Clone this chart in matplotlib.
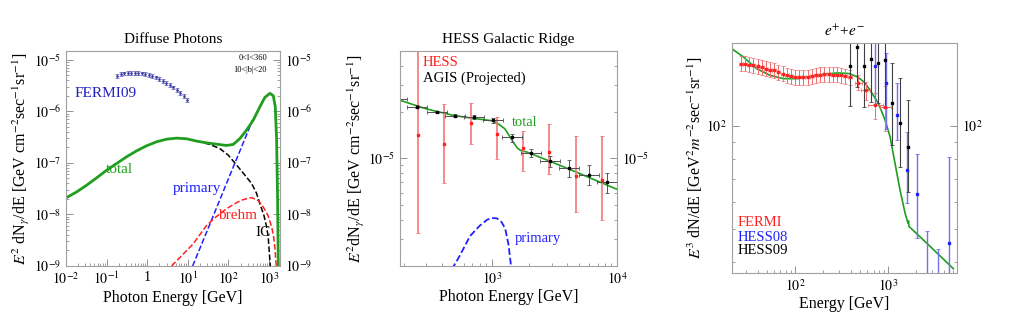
import numpy as np
import matplotlib
matplotlib.use('Agg')
import matplotlib.pyplot as plt
from matplotlib.ticker import NullFormatter, LogLocator

plt.rcParams['font.family'] = ['Liberation Serif', 'DejaVu Serif']
plt.rcParams['mathtext.fontset'] = 'stix'

# ---------------- panel 1: diffuse photons ----------------
diff_E = [0.01, 0.0183, 0.0323, 0.0569, 0.1005, 0.177, 0.312, 0.55, 0.97, 1.71, 3.02,
          5.32, 9.38, 16.5, 29.2, 51.4, 90.6, 132, 193, 282, 411, 600, 796, 1059,
          1279, 1433, 1545, 1635, 1700, 1720]
diff_total = [2.1e-8, 2.74e-8, 3.7e-8, 5.14e-8, 7.24e-8, 9.77e-8, 1.32e-7, 1.72e-7, 2.16e-7,
              2.58e-7, 2.9e-7, 3.04e-7, 2.95e-7, 2.66e-7, 2.46e-7, 2.32e-7, 2.19e-7, 2.29e-7,
              2.99e-7, 4.35e-7, 6.8e-7, 1.24e-6, 1.88e-6, 2.25e-6, 2.02e-6, 1.24e-6, 2.78e-7,
              1.89e-8, 1e-9, 1e-10]

ic_E = [16.5, 20, 35.2, 62, 99.6, 160, 256, 375, 498, 600, 753, 875, 961, 1000, 1080, 1120]
ic_v = [2.66e-7, 2.57e-7, 2.29e-7, 1.9e-7, 1.42e-7, 9.1e-8, 5.8e-8, 4.0e-8, 2.55e-8, 1.6e-8,
        9.6e-9, 5.8e-9, 3.6e-9, 2.33e-9, 1e-9, 5e-10]

prim_E = [13.2, 30, 100, 200, 300, 400]
prim_v = [1e-9, 4.8e-9, 4.9e-8, 1.84e-7, 4.0e-7, 7.0e-7]

brehm_E = [4.0, 13.7, 29, 50, 91, 150, 212, 300, 375, 550, 724, 950, 1164, 1300, 1400, 1510, 1560]
brehm_v = [1e-9, 2.7e-9, 6.1e-9, 9e-9, 1.3e-8, 1.65e-8, 1.9e-8, 2.05e-8, 2.13e-8, 1.85e-8,
           1.4e-8, 9.5e-9, 5.8e-9, 3.8e-9, 2.3e-9, 1e-9, 5e-10]

fermi09_E = [0.184, 0.224, 0.273, 0.333, 0.406, 0.494, 0.602, 0.734, 0.894, 1.09, 1.33,
             1.62, 1.97, 2.40, 2.93, 3.57, 4.35, 5.30, 6.45, 7.87, 9.4]
fermi09_v = [4.96e-6, 5.34e-6, 5.5e-6, 5.66e-6, 5.66e-6, 5.66e-6, 5.58e-6, 5.5e-6, 5.34e-6,
             5.1e-6, 4.89e-6, 4.6e-6, 4.33e-6, 3.96e-6, 3.62e-6, 3.27e-6, 2.94e-6, 2.61e-6,
             2.31e-6, 2.0e-6, 1.67e-6]
fermi09_rel = 0.08

# ---------------- panel 2: HESS galactic ridge ----------------
ridge_E = [185, 300, 500, 800, 1000, 1080, 1150, 1270, 1400, 1490, 1600, 1690, 1910,
           3000, 5000, 10000]
ridge_total = [2.39e-5, 2.1e-5, 1.9e-5, 1.8e-5, 1.76e-5, 1.71e-5, 1.66e-5, 1.56e-5, 1.38e-5,
               1.27e-5, 1.17e-5, 1.13e-5, 1.1e-5, 9.5e-6, 8.0e-6, 6.3e-6]

ridge_prim_E = [480, 550, 671, 800, 920, 1000, 1100, 1200, 1280, 1360, 1420, 1450]
ridge_prim_v = [1.9e-6, 2.3e-6, 3.13e-6, 3.65e-6, 4.0e-6, 4.1e-6, 4.08e-6, 3.85e-6, 3.5e-6,
                2.76e-6, 2.05e-6, 1.6e-6]

agis_E = [175, 255, 364, 510, 722, 1030, 1460, 2060, 2920, 4160, 5950, 8370]
agis_v = [2.42e-5, 2.17e-5, 2.0e-5, 1.9e-5, 1.85e-5, 1.77e-5, 1.37e-5, 1.09e-5, 9.6e-6,
          8.7e-6, 7.85e-6, 6.98e-6]
agis_rel = [0.02, 0.02, 0.02, 0.02, 0.03, 0.04, 0.06, 0.06, 0.08, 0.13, 0.15, 0.15]
agis_dlogE = 0.08

hess_E = [260, 419, 680, 1110, 1790, 2880, 4680, 7600]
hess_v = [1.41e-5, 1.25e-5, 1.71e-5, 1.44e-5, 1.17e-5, 1.1e-5, 7.65e-6, 7.2e-6]
hess_hi = [6e-5, 2.27e-5, 2.3e-5, 1.86e-5, 1.5e-5, 1.68e-5, 1.39e-5, 1.4e-5]
hess_lo = [3.26e-6, 6.9e-6, 1.25e-5, 9.85e-6, 8.25e-6, 7.9e-6, 4.5e-6, 3.97e-6]

# ---------------- panel 3: e+ + e- ----------------
ee_E = [21.4, 27.9, 38.8, 54.2, 75.5, 105, 147, 205, 286, 382, 470, 555, 640, 787, 929, 1052,
        1189, 1345, 1524, 1640, 1660, 1680, 2831, 5037]
ee_v = [167.5, 159.1, 147, 140.5, 137.4, 137.4, 139.6, 141.5, 142.8, 142.2, 139, 134.3, 127.3,
        116.5, 104.1, 93.1, 77.8, 65.1, 55.7, 52.0, 52.8, 50.9, 44.5, 38.3]

fermi_E = [26.3, 29.2, 32.3, 35.9, 39.8, 44.1, 48.9, 54.3, 60.0, 66.7, 73.9, 82.0, 90.8,
           100.7, 111.8, 123.7, 137.2, 152.3, 168.6, 187.1, 207.6, 229.8, 255.0, 282.9,
           313.2, 347.5, 390, 482, 578, 729, 938]
fermi_v = [152.1, 152.1, 151.1, 150.4, 149.4, 148.7, 147.1, 146.0, 145.4, 143.8, 142.1, 140.5,
           139.6, 139.0, 138.7, 139.0, 139.0, 139.6, 140.5, 141.2, 141.5, 141.5, 141.2, 141.2,
           140.5, 139.6, 139.0, 133.7, 127.0, 114.8, 113.4]
fermi_rel = [0.05] * 27 + [0.05, 0.06, 0.085, 0.15]
fermi_dlogE = [0.02] * 27 + [0.04, 0.05, 0.08, 0.06]

hess08_E = [725, 944, 1253, 1588, 2036, 2646, 3475, 4495]
hess08_v = [149.6, 133.2, 107.7, 74.4, 63.4, 34, 35, 45.5]
hess08_hi = [180, 163, 133, 96.3, 82.9, 49.2, 43.7, 80.9]
hess08_lo = [116, 98, 91, 59.6, 47.1, 25, 25, 30]

hess09_E = [388, 470, 552, 651, 787, 929, 1112, 1345, 1620]
hess09_v = [149.7, 170.1, 150, 156.4, 152.2, 155.7, 116.4, 101.8, 87.0]
hess09_hi = [180, 200, 190, 190, 190, 190, 152.9, 137.8, 119.1]
hess09_lo = [114, 129.6, 113.4, 117.7, 116.4, 113, 88.1, 76.1, 64.1]

GREEN = '#1f9e1f'


def frame(ax):
    for s in ax.spines.values():
        s.set_color('#a0a0a0')
        s.set_linewidth(0.8)
    ax.set_xscale('log')
    ax.set_yscale('log')
    ax.tick_params(which='both', direction='in', colors='#909090', labelcolor='black',
                   top=False, right=True, labelright=True, labelsize=10)
    ax.tick_params(which='major', length=5, width=0.7)
    ax.tick_params(which='minor', length=2.5, width=0.6)
    ax.xaxis.set_minor_locator(LogLocator(subs=np.arange(2, 10)))
    ax.yaxis.set_minor_locator(LogLocator(subs=np.arange(2, 10)))
    ax.yaxis.set_minor_formatter(NullFormatter())
    ax.xaxis.set_minor_formatter(NullFormatter())


def xerr_log(E, d):
    E = np.array(E)
    d = np.array(d)
    return [E - E / 10 ** d, E * 10 ** d - E]


def yerr_asym(v, lo, hi):
    v = np.array(v)
    return [v - np.array(lo), np.array(hi) - v]


fig = plt.figure(figsize=(10.1, 3.35), dpi=100)

# ---- panel 1 ----
ax1 = fig.add_axes([0.0653, 0.206, 0.2119, 0.642])
frame(ax1)
ax1.plot(ic_E, ic_v, '--', color='black', lw=1.1)
ax1.plot(prim_E, prim_v, '--', color='#2020ff', lw=1.1)
ax1.plot(brehm_E, brehm_v, '--', color='#ff2020', lw=1.1)
ax1.plot(diff_E, diff_total, color=GREEN, lw=2)
f09 = np.array(fermi09_v)
ax1.errorbar(fermi09_E, fermi09_v, yerr=fermi09_rel * f09, fmt='s', ms=0.8, color='#3a3aa0',
             ecolor='#5555b5', elinewidth=0.6, capsize=1.2, capthick=0.5)
ax1.set_xlim(0.01, 1870)
ax1.set_ylim(1e-9, 1.5e-5)
ax1.set_xticks([1e-2, 1e-1, 1, 10, 100, 1000],
               ['$10^{-2}$', '$10^{-1}$', '1', '$10^{1}$', '$10^{2}$', '$10^{3}$'])
ax1.set_yticks([1e-9, 1e-8, 1e-7, 1e-6, 1e-5],
               ['$10^{-9}$', '$10^{-8}$', '$10^{-7}$', '$10^{-6}$', '$10^{-5}$'])
ax1.set_title('Diffuse Photons', fontsize=11, pad=6)
ax1.set_xlabel('Photon Energy [GeV]', fontsize=11.5, labelpad=2)
ax1.set_ylabel(r'$E^2$ dN$_\gamma$/dE [GeV cm$^{-2}$sec$^{-1}$sr$^{-1}$]', fontsize=11.5, labelpad=1)
ax1.text(0.042, 0.80, 'FERMI09', color='#2020c0', fontsize=11, transform=ax1.transAxes, va='center')
ax1.text(0.94, 0.967, '0<l<360', fontsize=6, ha='right', va='center', transform=ax1.transAxes)
ax1.text(0.94, 0.91, '10<|b|<20', fontsize=6, ha='right', va='center', transform=ax1.transAxes)
ax1.text(0.25, 0.45, 'total', color=GREEN, fontsize=11, ha='center', va='center', transform=ax1.transAxes)
ax1.text(0.61, 0.36, 'primary', color='#2020ff', fontsize=11, ha='center', va='center', transform=ax1.transAxes)
ax1.text(0.80, 0.237, 'brehm', color='#ff2020', fontsize=11, ha='center', va='center', transform=ax1.transAxes)
ax1.text(0.92, 0.157, 'IC', color='black', fontsize=11, ha='center', va='center', transform=ax1.transAxes)

# ---- panel 2 ----
ax2 = fig.add_axes([0.396, 0.206, 0.2149, 0.642])
frame(ax2)
ax2.plot(ridge_prim_E, ridge_prim_v, '--', color='#2020ff', lw=1.3)
ax2.plot(ridge_E, ridge_total, color=GREEN, lw=1.2)
ax2.errorbar(hess_E, hess_v, yerr=yerr_asym(hess_v, hess_lo, hess_hi), fmt='s', ms=1.8,
             color='#ff2020', ecolor='#f07878', elinewidth=1.2, capsize=1.5, capthick=0.6)
av = np.array(agis_v)
ax2.errorbar(agis_E, agis_v, yerr=np.array(agis_rel) * av, xerr=xerr_log(agis_E, agis_dlogE),
             fmt='s', ms=1.8, color='black', ecolor='#505050', elinewidth=0.7, capsize=1.5,
             capthick=0.6)
ax2.set_xlim(185, 10000)
ax2.set_ylim(2e-6, 5e-5)
ax2.set_xticks([1e3, 1e4], ['$10^{3}$', '$10^{4}$'])
ax2.set_yticks([1e-5], ['$10^{-5}$'])
ax2.set_title('HESS Galactic Ridge', fontsize=11, pad=6)
ax2.set_xlabel('Photon Energy [GeV]', fontsize=11.5, labelpad=2)
ax2.set_ylabel(r'$E^2$dN$_\gamma$/dE [GeV cm$^{-2}$sec$^{-1}$sr$^{-1}$]', fontsize=11.5, labelpad=1)
ax2.text(0.106, 0.944, 'HESS', color='#ff2020', fontsize=10.5, va='center', transform=ax2.transAxes)
ax2.text(0.106, 0.874, 'AGIS (Projected)', color='black', fontsize=10.5, va='center', transform=ax2.transAxes)
ax2.text(0.516, 0.667, 'total', color=GREEN, fontsize=10.5, va='center', transform=ax2.transAxes)
ax2.text(0.53, 0.13, 'primary', color='#2020ff', fontsize=10.5, va='center', transform=ax2.transAxes)

# ---- panel 3 ----
ax3 = fig.add_axes([0.7245, 0.185, 0.2234, 0.6866])
frame(ax3)
ax3.plot(ee_E, ee_v, color=GREEN, lw=1.2)
fv = np.array(fermi_v)
ax3.errorbar(fermi_E, fermi_v, yerr=np.array(fermi_rel) * fv, xerr=xerr_log(fermi_E, fermi_dlogE),
             fmt='s', ms=1.4, color='#ff2020', ecolor='#f06a6a', elinewidth=0.7, capsize=1.2,
             capthick=0.5)
ax3.errorbar(hess08_E, hess08_v, yerr=yerr_asym(hess08_v, hess08_lo, hess08_hi), fmt='s', ms=1.6,
             color='#2020ff', ecolor='#7070f0', elinewidth=1.0, capsize=1.5, capthick=0.6)
ax3.errorbar(hess09_E, hess09_v, yerr=yerr_asym(hess09_v, hess09_lo, hess09_hi), fmt='s', ms=1.6,
             color='black', ecolor='#404040', elinewidth=0.8, capsize=1.5, capthick=0.6)
ax3.set_xlim(21, 5560)
ax3.set_ylim(37.2, 174.6)
ax3.set_xticks([1e2, 1e3], ['$10^{2}$', '$10^{3}$'])
ax3.set_yticks([100], ['$10^{2}$'])
ax3.set_title('$e^{+}$+$e^{-}$', fontsize=11, pad=5)
ax3.set_xlabel('Energy [GeV]', fontsize=11.5, labelpad=2)
ax3.set_ylabel(r'$E^3$ dN/dE [GeV$^2$$m^{-2}$sec$^{-1}$sr$^{-1}$]', fontsize=11.5, labelpad=1)
ax3.text(0.024, 0.219, 'FERMI', color='#ff2020', fontsize=10.5, va='center', transform=ax3.transAxes)
ax3.text(0.024, 0.154, 'HESS08', color='#2020ff', fontsize=10.5, va='center', transform=ax3.transAxes)
ax3.text(0.024, 0.10, 'HESS09', color='black', fontsize=10.5, va='center', transform=ax3.transAxes)

fig.savefig('out.png', dpi=100)
